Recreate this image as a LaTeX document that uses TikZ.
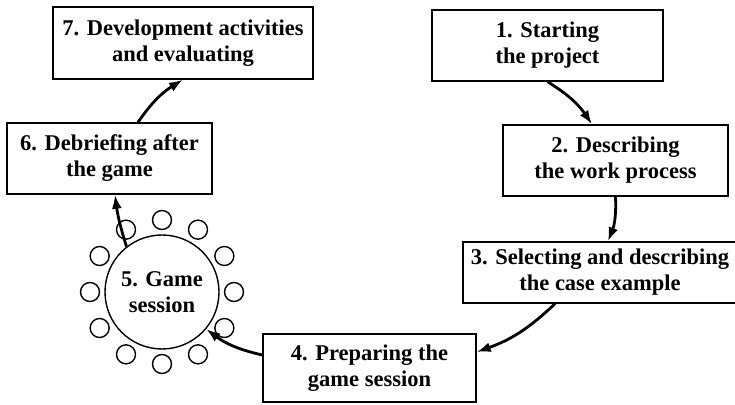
\documentclass[tikz,border=0pt]{standalone}
\usepackage{fontspec}
\setmainfont{Liberation Serif}
\usetikzlibrary{arrows.meta}
\begin{document}
\begin{tikzpicture}
      [
      x=1pt,y=1pt,
      stage/.style={rectangle,draw,line width=1.4pt,align=center,inner sep=2pt,
        font=\bfseries\fontsize{22.5}{26}\selectfont},
      session/.style={circle,draw,line width=1.4pt,minimum size=114pt,inner sep=0pt,align=center,
        font=\bfseries\fontsize{22.5}{26}\selectfont},
      seat/.style={circle,draw,line width=1.4pt,inner sep=0pt,minimum size=19pt},
      flow/.style={-{Latex[length=14pt,width=10pt]},line width=2.8pt,bend left=12}
      ]
      \useasboundingbox (0,0) rectangle (735,404);
      \node (s1) at (547.5,358.5) [stage, minimum width=231pt, minimum height=71pt] {1. Starting\\the project};
      \node (s2) at (615.5,243.5) [stage, minimum width=225pt, minimum height=71pt] {2. Describing\\the work process};
      \node (s3) at (600,131.5) [stage, minimum width=274pt, minimum height=61pt] {3. Selecting and describing\\the case example};
      \node (s4) at (369.5,36) [stage, minimum width=213pt, minimum height=68pt] {4. Preparing the\\game session};
      \node (s5) at (162,112) [session] {5. Game\\session};
      \node (s6) at (109.5,245.5) [stage, minimum width=205pt, minimum height=71pt] {6. Debriefing after\\the game};
      \node (s7) at (183,361) [stage, minimum width=260pt, minimum height=72pt] {7. Development activities\\and evaluating};
      % players round the game
      \foreach \a in {0,30,...,330}
        \node (p\a) at ([shift={(\a:72)}]s5.center) [seat] {};
      \draw [flow] (s1.south) to ([xshift=-23.5pt]s2.north);
      \draw [flow] (s2.south) to ([xshift=8pt]s3.north);
      \draw [flow] ([xshift=-45pt]s3.south) to ([yshift=16pt]s4.east);
      \draw [flow] ([yshift=13pt]s4.west) to (s5.-40);
      \draw [flow, bend left=5] (s5.128) to ([xshift=5.5pt]s6.south);
      \draw [flow] ([xshift=28.5pt]s6.north) to (s7.south);
    \end{tikzpicture}
\end{document}
